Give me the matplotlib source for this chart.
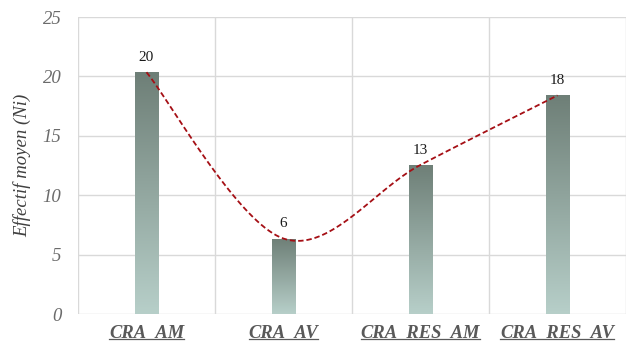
import numpy as np
import matplotlib
matplotlib.use("Agg")
import matplotlib.pyplot as plt
from matplotlib.colors import LinearSegmentedColormap
from matplotlib.lines import Line2D

plt.rcParams['font.family'] = ['Liberation Serif', 'DejaVu Serif']

# Effectif moyen par station
stations = ["CRA_AM", "CRA_AV", "CRA_RES_AM", "CRA_RES_AV"]
effectifs = [20.35, 6.35, 12.55, 18.4]

GRIS = "#595959"
GRILLE = "#d9d9d9"

fig = plt.figure(figsize=(6.32, 3.47), dpi=100)
ax = fig.add_axes([0.1234, 0.0951, 0.8671, 0.8559])

x = np.arange(len(stations))
largeur = 0.17

# barres en dégradé (foncé en haut, clair en bas)
cmap = LinearSegmentedColormap.from_list("vert", ["#b7cfc9", "#6e7f77"])
grad = np.linspace(0, 1, 256).reshape(-1, 1)
bars = ax.bar(x, effectifs, width=largeur, color="none", edgecolor="none", zorder=2)
for b in bars:
    x0, y0 = b.get_x(), b.get_y()
    im = ax.imshow(grad, cmap=cmap, origin="lower", aspect="auto",
                   extent=[x0, x0 + b.get_width(), y0, y0 + b.get_height()], zorder=2)
    im.set_clip_path(b)

# courbe lissée (type Catmull-Rom) passant par le sommet des barres
def lisse(xs, ys, n=40):
    px, py = [], []
    pts = list(zip(xs, ys))
    for i in range(len(pts) - 1):
        p0 = pts[i - 1] if i > 0 else pts[i]
        p1, p2 = pts[i], pts[i + 1]
        p3 = pts[i + 2] if i + 2 < len(pts) else pts[i + 1]
        c1 = (p1[0] + (p2[0] - p0[0]) / 6, p1[1] + (p2[1] - p0[1]) / 6)
        c2 = (p2[0] - (p3[0] - p1[0]) / 6, p2[1] - (p3[1] - p1[1]) / 6)
        t = np.linspace(0, 1, n)
        for k in range(2):
            a, b1, b2, d = p1[k], c1[k], c2[k], p2[k]
            v = (1 - t) ** 3 * a + 3 * (1 - t) ** 2 * t * b1 + 3 * (1 - t) * t ** 2 * b2 + t ** 3 * d
            (px if k == 0 else py).extend(v)
    return px, py

cx, cy = lisse(x, effectifs)
ax.plot(cx, cy, color="#a50f15", lw=1.3, ls=(0, (3, 1.6)), zorder=3)

for xi, v in zip(x, effectifs):
    ax.text(xi, v + 0.7, f"{v:.0f}", ha="center", va="bottom",
            fontsize=11, color="#1a1a1a", zorder=4)

ax.set_xlim(-0.5, len(stations) - 0.5)
ax.set_ylim(0, 25)
ax.yaxis.grid(True, color=GRILLE, lw=1)
for xs in np.arange(-0.5, len(stations), 1):
    ax.axvline(xs, color=GRILLE, lw=1, zorder=0)
ax.set_axisbelow(True)
for s in ax.spines.values():
    s.set_visible(False)
ax.tick_params(length=0)

ax.set_yticks(np.arange(0, 26, 5))
ax.set_yticklabels([str(v) for v in range(0, 26, 5)], fontsize=13.5,
                   fontstyle="italic", color="#6b6b6b")
ax.tick_params(axis="y", pad=12)

ax.set_xticks(x)
ax.set_xticklabels(stations, fontsize=13.3, fontstyle="italic",
                   fontweight="bold", color=GRIS)
ax.tick_params(axis="x", pad=7)

ax.set_ylabel("Effectif moyen (Ni)", fontsize=13.5, fontstyle="italic", color="#404040")
ax.yaxis.set_label_coords(-0.085, 0.5)

# soulignement des étiquettes de l'axe x
fig.canvas.draw()
r = fig.canvas.get_renderer()
inv = fig.transFigure.inverted()
for lab in ax.get_xticklabels():
    bb = lab.get_window_extent(r)
    (x0, y0), (x1, _) = inv.transform([(bb.x0, bb.y0 + 1.5), (bb.x1, bb.y0)])
    fig.add_artist(Line2D([x0, x1], [y0, y0], color=GRIS, lw=0.9))

fig.savefig("out.png", dpi=100)
